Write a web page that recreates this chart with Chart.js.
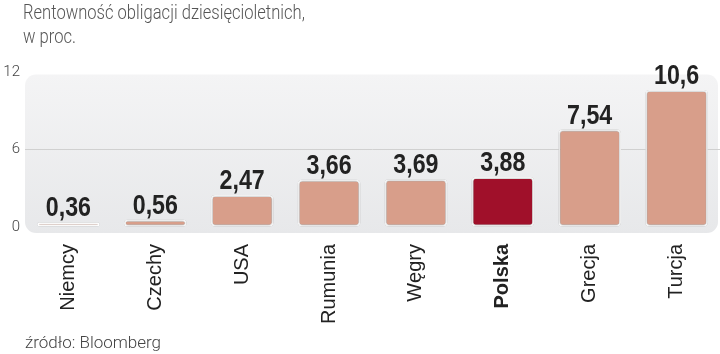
<!DOCTYPE html>
<html><head><meta charset="utf-8">
<script src="https://cdn.jsdelivr.net/npm/chart.js@4/dist/chart.umd.min.js"></script>
<style>
html,body{margin:0;padding:0;background:#fff;}
#wrap{position:relative;width:720px;height:354px;overflow:hidden;}
#c{position:absolute;left:0;top:0;}
.t{position:absolute;left:23px;font-family:Roboto,"Liberation Sans",sans-serif;font-weight:300;color:#555;font-size:19.5px;white-space:nowrap;line-height:22px;transform:scaleX(0.85);transform-origin:0 0;}
#src{position:absolute;left:25px;top:333px;font-family:Roboto,"Liberation Sans",sans-serif;font-weight:300;color:#444;font-size:17px;line-height:18px;white-space:nowrap;}
</style></head>
<body><div id="wrap">
<canvas id="c" width="720" height="354"></canvas>
<div class="t" style="top:2px">Rentowność obligacji dziesięcioletnich,</div>
<div class="t" style="top:26px">w proc.</div>
<div id="src">źródło: Bloomberg</div>
</div>
<script>
const categories = ['Niemcy','Czechy','USA','Rumunia','Węgry','Polska','Grecja','Turcja'];
const values = [0.36, 0.56, 2.47, 3.66, 3.69, 3.88, 7.54, 10.6];
const yTicks = [0, 6, 12];
const highlight = 'Polska';

const baseColor = '#D89E8A';
const hiColor = '#A0102A';

const panelPlugin = {
  id: 'panel',
  beforeDraw(chart) {
    const {ctx, chartArea: a, scales: {y}} = chart;
    const top = y.getPixelForValue(12) + 2.5;
    const bottom = a.bottom + 6;
    const left = a.left, right = a.right - 2, r = 11;
    const g = ctx.createLinearGradient(0, top, 0, bottom);
    g.addColorStop(0, '#f4f4f5');
    g.addColorStop(1, '#e7e8ea');
    ctx.save();
    ctx.fillStyle = g;
    ctx.beginPath();
    ctx.roundRect(left, top, right - left, bottom - top, r);
    ctx.fill();
    ctx.restore();
  }
};
const shadowPlugin = {
  id: 'shadow',
  beforeDatasetsDraw(chart) {
    const ctx = chart.ctx;
    ctx.save();
    ctx.shadowColor = 'rgba(0,0,0,0.4)';
    ctx.shadowBlur = 3;
  },
  afterDatasetsDraw(chart) {
    chart.ctx.restore();
  }
};
const labelPlugin = {
  id: 'vlabels',
  afterDatasetsDraw(chart) {
    const ctx = chart.ctx;
    const meta = chart.getDatasetMeta(0);
    meta.data.forEach((bar, i) => {
      ctx.save();
      ctx.font = 'bold 27px "Liberation Sans", Arial, sans-serif';
      ctx.fillStyle = '#222';
      ctx.textAlign = 'center';
      ctx.textBaseline = 'alphabetic';
      ctx.translate(bar.x, bar.y - 6);
      ctx.scale(0.86, 1);
      ctx.fillText(String(values[i]).replace('.', ','), 0, 0);
      ctx.restore();
    });
  }
};

new Chart(document.getElementById('c'), {
  type: 'bar',
  data: {
    labels: categories,
    datasets: [{
      data: values,
      backgroundColor: categories.map(c => c === highlight ? hiColor : baseColor),
      borderColor: '#ffffff',
      borderWidth: 2,
      borderRadius: 4,
      borderSkipped: false,
      barPercentage: 0.72,
      categoryPercentage: 1.0
    }]
  },
  options: {
    responsive: false,
    animation: false,
    devicePixelRatio: 1,
    layout: {padding: {top: 72, right: 0, left: 0, bottom: 0}},
    plugins: {legend: {display: false}, tooltip: {enabled: false}},
    scales: {
      x: {
        grid: {display: false},
        border: {display: false},
        afterFit(s) { s.height = 127; },
        ticks: {
          minRotation: 90, maxRotation: 90, padding: 9, color: '#222',
          font: c => ({family: '"Liberation Sans", Arial, sans-serif', size: 20,
                       weight: categories[c.index] === highlight ? 'bold' : 'normal'})
        }
      },
      y: {
        min: 0, max: 12,
        afterBuildTicks(s) { s.ticks = yTicks.map(v => ({value: v})); },
        afterFit(s) { s.width = 25; },
        grid: {drawTicks: false, color: c => c.tick && c.tick.value === 6 ? '#d0d0d0' : 'rgba(0,0,0,0)', lineWidth: 1},
        border: {display: false},
        ticks: {padding: 5, color: '#444', font: {family: 'Roboto, "Liberation Sans", sans-serif', size: 15, weight: 300}}
      }
    }
  },
  plugins: [panelPlugin, shadowPlugin, labelPlugin]
});
</script>
</body></html>
